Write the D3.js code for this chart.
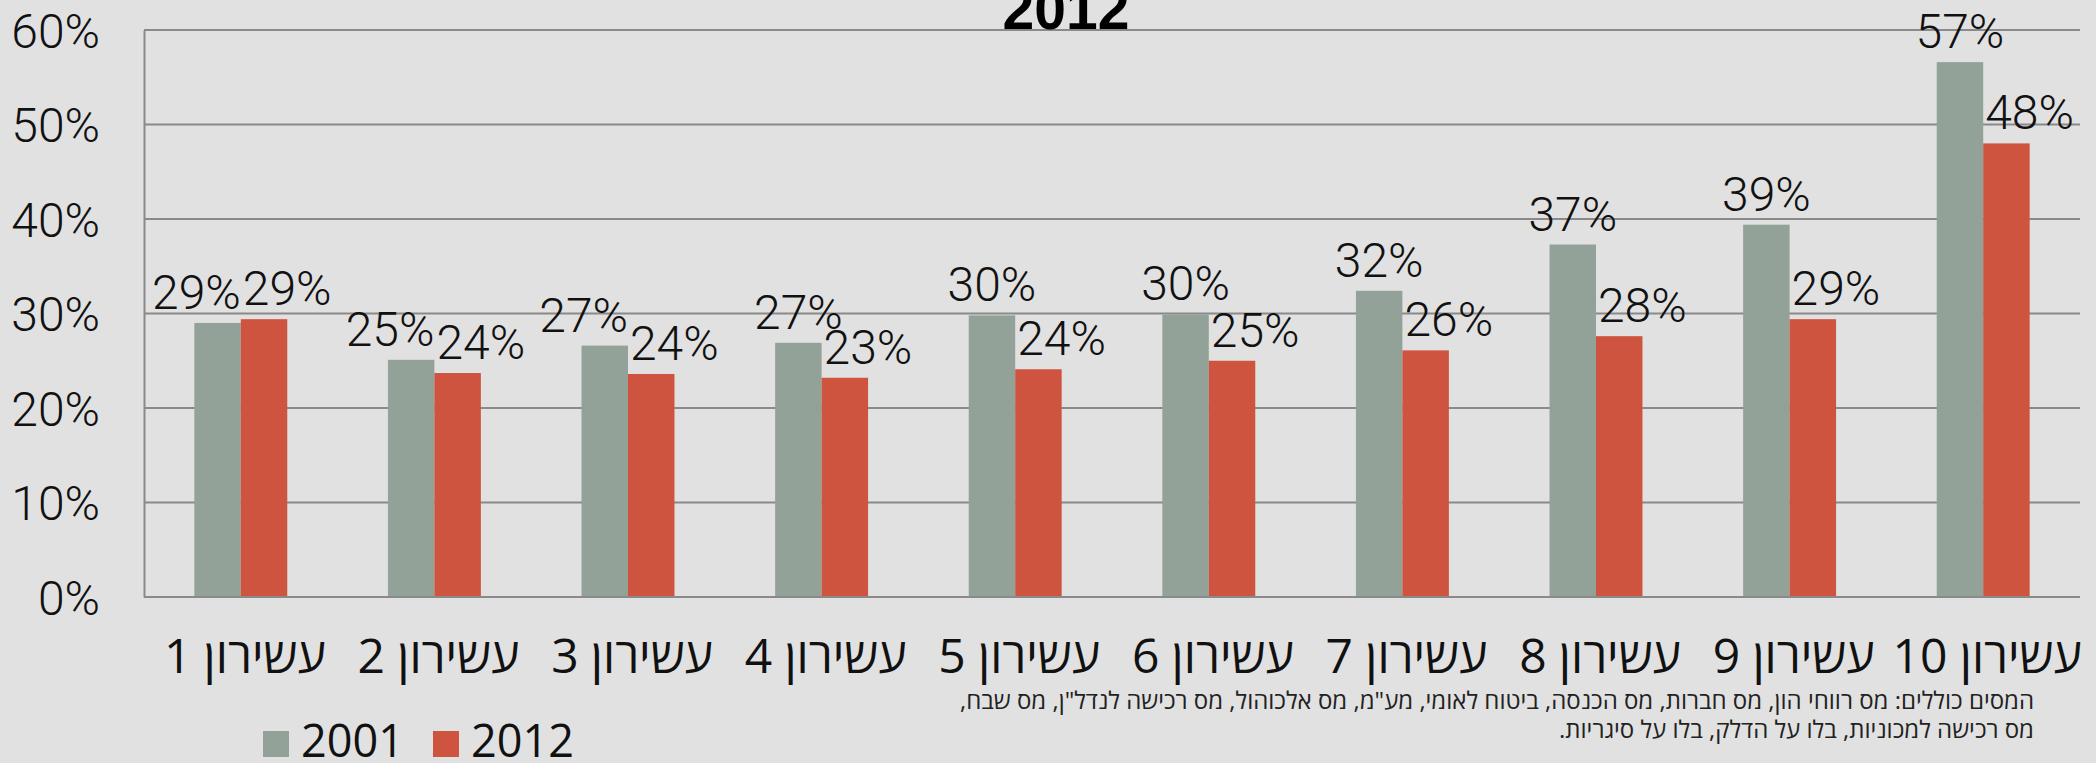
<!DOCTYPE html>
<html>
<head>
<meta charset="utf-8">
<script src="https://cdn.jsdelivr.net/npm/d3@7"></script>
<style>
  html, body { margin: 0; padding: 0; background: #e1e1e1; }
  svg { display: block; }
</style>
</head>
<body>
<svg id="chart" width="2096" height="763"></svg>
<script>
// ---- data ----
const categories = ["עשירון 1","עשירון 2","עשירון 3","עשירון 4","עשירון 5","עשירון 6","עשירון 7","עשירון 8","עשירון 9","עשירון 10"];
const seriesNames = ["2001", "2012"];
const values2001 = [29.0, 25.1, 26.6, 26.9, 29.8, 29.9, 32.4, 37.3, 39.4, 56.6];
const values2012 = [29.4, 23.7, 23.6, 23.2, 24.1, 25.0, 26.1, 27.6, 29.4, 48.0];
const yTicks = [0, 10, 20, 30, 40, 50, 60];
const titleText = "2012";
const footnoteLines = [
  'המסים כוללים: מס רווחי הון, מס חברות, מס הכנסה, ביטוח לאומי, מע"מ, מס אלכוהול, מס רכישה לנדל"ן, מס שבח,',
  'מס רכישה למכוניות, בלו על הדלק, בלו על סיגריות.'
];

// ---- layout ----
const W = 2096, H = 763;
const plot = { left: 144, right: 2080, top: 30, bottom: 597 };
const colors = { "2001": "#93a298", "2012": "#cf543f" };
const gridColor = "#8a8a8a";
const labelFont = 'Roboto, "Liberation Sans", sans-serif';
const hebFont = '"Open Sans", "Liberation Sans", "DejaVu Sans", sans-serif';

const svg = d3.select("#chart");
svg.append("rect").attr("width", W).attr("height", H).attr("fill", "#e1e1e1");

const x = d3.scaleBand().domain(categories).range([plot.left, plot.right]).paddingInner(0.52).paddingOuter(0.26);
const xs = d3.scaleBand().domain(seriesNames).range([0, x.bandwidth()]);
const y = d3.scaleLinear().domain([0, 60]).range([plot.bottom, plot.top]);

// gridlines
svg.append("g")
  .selectAll("line").data(yTicks).join("line")
  .attr("x1", plot.left).attr("x2", plot.right)
  .attr("y1", d => y(d)).attr("y2", d => y(d))
  .attr("stroke", gridColor).attr("stroke-width", 2);

// y axis
const yAxis = d3.axisLeft(y).tickValues(yTicks).tickSize(0).tickPadding(44).tickFormat(d => d + "%");
const ya = svg.append("g").attr("transform", `translate(${plot.left},0)`).call(yAxis);
ya.select(".domain").attr("stroke", gridColor).attr("stroke-width", 2);
ya.selectAll("text").attr("font-family", labelFont).attr("font-weight", 300)
  .attr("font-size", 48).attr("fill", "#111").attr("dy", "0.36em");

// bars
const data = categories.map((c, i) => ({ cat: c, v2001: values2001[i], v2012: values2012[i] }));
const groups = svg.append("g").selectAll("g").data(data).join("g")
  .attr("transform", d => `translate(${x(d.cat)},0)`);

groups.selectAll("rect").data(d => [
  { s: "2001", v: d.v2001 }, { s: "2012", v: d.v2012 }
]).join("rect")
  .attr("x", d => xs(d.s)).attr("width", xs.bandwidth())
  .attr("y", d => y(d.v)).attr("height", d => y(0) - y(d.v))
  .attr("fill", d => colors[d.s]);

// x axis baseline
svg.append("line").attr("x1", plot.left).attr("x2", plot.right)
  .attr("y1", y(0)).attr("y2", y(0)).attr("stroke", gridColor).attr("stroke-width", 2);

// data labels
const fmt = d => Math.round(d) + "%";
const gap = 14;
groups.each(function(d) {
  const g = d3.select(this);
  const close = (d.v2001 - d.v2012) < 3.5;
  g.append("text")
    .attr("x", close ? xs("2001") + xs.bandwidth() : xs("2001") + xs.bandwidth() / 2)
    .attr("y", y(d.v2001) - gap)
    .attr("text-anchor", close ? "end" : "middle")
    .attr("font-family", labelFont).attr("font-weight", 300).attr("font-size", 48).attr("fill", "#111")
    .text(fmt(d.v2001));
  g.append("text")
    .attr("x", xs("2012") + 2)
    .attr("y", y(d.v2012) - gap)
    .attr("text-anchor", "start")
    .attr("font-family", labelFont).attr("font-weight", 300).attr("font-size", 48).attr("fill", "#111")
    .text(fmt(d.v2012));
});

// category labels
svg.append("g").selectAll("text").data(categories).join("text")
  .attr("x", d => x(d) + x.bandwidth() / 2 + 4)
  .attr("y", 673)
  .attr("direction", "rtl")
  .attr("text-anchor", "middle")
  .attr("font-family", hebFont).attr("font-size", 48).attr("fill", "#111")
  .text(d => d);

// title (partially visible)
svg.append("text").attr("x", 1066).attr("y", 29)
  .attr("text-anchor", "middle")
  .attr("font-family", '"Liberation Sans", Arial, sans-serif').attr("font-weight", "bold")
  .attr("font-size", 57).attr("fill", "#000")
  .text(titleText);

// footnote
svg.append("g").selectAll("text").data(footnoteLines).join("text")
  .attr("x", 2034).attr("y", (d, i) => 709 + i * 29)
  .attr("direction", "rtl").attr("text-anchor", "start")
  .attr("font-family", hebFont).attr("font-size", 24).attr("fill", "#222")
  .text(d => d);

// legend
const legend = svg.append("g");
const legendX = [263, 433];
seriesNames.forEach((s, i) => {
  legend.append("rect").attr("x", legendX[i]).attr("y", 731).attr("width", 26).attr("height", 26).attr("fill", colors[s]);
  legend.append("text").attr("x", legendX[i] + 38).attr("y", 757)
    .attr("font-family", hebFont).attr("font-size", 45).attr("fill", "#111")
    .text(s);
});
</script>
</body>
</html>
